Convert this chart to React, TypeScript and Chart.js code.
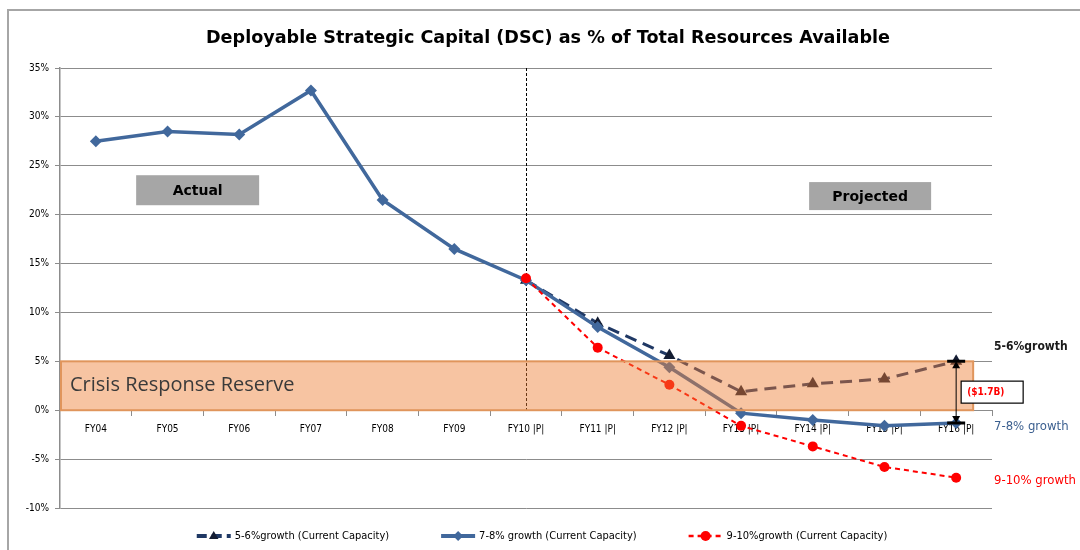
import React, { useEffect, useRef } from "react";
import { Chart, registerables } from "chart.js";

Chart.register(...registerables);

const categories = [
  "FY04", "FY05", "FY06", "FY07", "FY08", "FY09",
  "FY10 |P|", "FY11 |P|", "FY12 |P|", "FY13 |P|", "FY14 |P|", "FY15 |P|", "FY16 |P|",
];

const growth56 = [null, null, null, null, null, null, 13.3, 8.9, 5.6, 1.9, 2.7, 3.2, 5.0];
const growth78 = [27.5, 28.5, 28.2, 32.7, 21.5, 16.5, 13.3, 8.5, 4.4, -0.3, -1.0, -1.6, -1.3];
const growth910 = [null, null, null, null, null, null, 13.5, 6.4, 2.6, -1.6, -3.7, -5.8, -6.9];

const seriesLabels = [
  "5-6%growth (Current Capacity)",
  "7-8% growth (Current Capacity)",
  "9-10%growth (Current Capacity)",
];
const endLabels = ["5-6%growth", "7-8% growth", "9-10% growth"];
const seriesColors = ["#1f3864", "#41689c", "#ff0000"];
const markerColors = ["#141d33", "#41689c", "#ff0000"];

const yMin = -10;
const yMax = 35;
const yStep = 5;

const titleText = "Deployable Strategic Capital (DSC) as % of Total Resources Available";
const reserveRange = [0, 5];
const reserveLabel = "Crisis Response Reserve";
const gapLabel = "($1.7B)";
const phaseLabels = ["Actual", "Projected"];
const projectionStartIndex = 6;

function drawMarker(ctx: CanvasRenderingContext2D, style: string, x: number, y: number, r: number, color: string) {
  ctx.save();
  ctx.fillStyle = color;
  ctx.beginPath();
  if (style === "triangle") {
    ctx.moveTo(x, y - r);
    ctx.lineTo(x + r * 0.95, y + r * 0.6);
    ctx.lineTo(x - r * 0.95, y + r * 0.6);
  } else if (style === "rectRot") {
    ctx.moveTo(x, y - r);
    ctx.lineTo(x + r, y);
    ctx.lineTo(x, y + r);
    ctx.lineTo(x - r, y);
  } else {
    ctx.arc(x, y, r, 0, Math.PI * 2);
  }
  ctx.closePath();
  ctx.fill();
  ctx.restore();
}

const overlayPlugin = {
  id: "overlay",
  beforeDraw(chart: any) {
    const ctx = chart.ctx as CanvasRenderingContext2D;
    ctx.save();
    ctx.fillStyle = "#ffffff";
    ctx.fillRect(0, 0, chart.width, chart.height);
    ctx.strokeStyle = "#a6a6a6";
    ctx.lineWidth = 2;
    ctx.strokeRect(8, 10, chart.width + 20, chart.height + 20);
    ctx.fillStyle = "#000000";
    ctx.font = "bold 17.6px 'DejaVu Sans'";
    ctx.textAlign = "center";
    ctx.textBaseline = "middle";
    ctx.fillText(titleText, 548, 38);
    ctx.restore();
  },
  beforeDatasetsDraw(chart: any) {
    const ctx = chart.ctx as CanvasRenderingContext2D;
    const xs = chart.scales.x;
    const ys = chart.scales.y;
    const area = chart.chartArea;
    ctx.save();
    const dx = Math.round(xs.getPixelForValue(projectionStartIndex)) + 0.5;
    ctx.strokeStyle = "#000000";
    ctx.lineWidth = 1;
    ctx.setLineDash([3, 2]);
    ctx.beginPath();
    ctx.moveTo(dx, area.top);
    ctx.lineTo(dx, ys.getPixelForValue(0));
    ctx.stroke();
    ctx.setLineDash([]);

    const boxes = [
      { label: phaseLabels[0], idx: 1.42, v: 22.5, w: 123, h: 30 },
      { label: phaseLabels[1], idx: 10.8, v: 21.9, w: 122, h: 28 },
    ];
    boxes.forEach((b) => {
      const cx = xs.getPixelForValue(b.idx);
      const cy = ys.getPixelForValue(b.v);
      ctx.fillStyle = "#a6a6a6";
      ctx.fillRect(cx - b.w / 2, cy - b.h / 2, b.w, b.h);
      ctx.fillStyle = "#000000";
      ctx.font = "bold 14px 'DejaVu Sans'";
      ctx.textAlign = "center";
      ctx.textBaseline = "middle";
      ctx.fillText(b.label, cx, cy + 1);
    });
    ctx.restore();
  },
  afterDatasetsDraw(chart: any) {
    const ctx = chart.ctx as CanvasRenderingContext2D;
    const xs = chart.scales.x;
    const ys = chart.scales.y;
    const area = chart.chartArea;
    const last = categories.length - 1;
    const xLast = xs.getPixelForValue(last);
    ctx.save();

    const yTop = ys.getPixelForValue(reserveRange[1]);
    const yBot = ys.getPixelForValue(reserveRange[0]);
    const xRight = xLast + 17;
    ctx.fillStyle = "rgba(237,125,49,0.45)";
    ctx.fillRect(area.left, yTop, xRight - area.left, yBot - yTop);
    ctx.strokeStyle = "#e0955c";
    ctx.lineWidth = 2;
    ctx.strokeRect(area.left + 1, yTop, xRight - area.left - 1, yBot - yTop);
    ctx.fillStyle = "#3a3a3a";
    ctx.font = "20px 'Open Sans'";
    ctx.textAlign = "left";
    ctx.textBaseline = "middle";
    ctx.fillText(reserveLabel, area.left + 10, (yTop + yBot) / 2);

    const yA = ys.getPixelForValue(growth56[last] as number);
    const yB = ys.getPixelForValue(growth78[last] as number);
    ctx.strokeStyle = "#000000";
    ctx.fillStyle = "#000000";
    ctx.lineWidth = 1;
    ctx.beginPath();
    ctx.moveTo(xLast, yA + 4);
    ctx.lineTo(xLast, yB - 4);
    ctx.stroke();
    ctx.beginPath();
    ctx.moveTo(xLast, yA);
    ctx.lineTo(xLast + 4, yA + 7);
    ctx.lineTo(xLast - 4, yA + 7);
    ctx.closePath();
    ctx.fill();
    ctx.beginPath();
    ctx.moveTo(xLast, yB);
    ctx.lineTo(xLast + 4, yB - 7);
    ctx.lineTo(xLast - 4, yB - 7);
    ctx.closePath();
    ctx.fill();
    ctx.lineWidth = 3;
    ctx.beginPath();
    ctx.moveTo(xLast - 9, yA);
    ctx.lineTo(xLast + 9, yA);
    ctx.moveTo(xLast - 9, yB);
    ctx.lineTo(xLast + 9, yB);
    ctx.stroke();

    const midY = (yA + yB) / 2;
    const bx = xLast + 5;
    ctx.fillStyle = "#ffffff";
    ctx.fillRect(bx, midY - 11, 62, 22);
    ctx.strokeStyle = "#000000";
    ctx.lineWidth = 1.2;
    ctx.strokeRect(bx, midY - 11, 62, 22);
    ctx.fillStyle = "#ff0000";
    ctx.font = "bold 10px 'DejaVu Sans Condensed'";
    ctx.textAlign = "left";
    ctx.textBaseline = "middle";
    ctx.fillText(gapLabel, bx + 6, midY);

    const endVals = [growth56[last], growth78[last], growth910[last]] as number[];
    const offsets = [-14, 4, 3];
    const endColors = ["#1a1a1a", "#3b5f8f", "#ff0000"];
    endLabels.forEach((t, i) => {
      ctx.fillStyle = endColors[i];
      ctx.font = (i === 0 ? "bold 12px" : "13px") + " 'DejaVu Sans Condensed'";
      ctx.textAlign = "left";
      ctx.textBaseline = "middle";
      ctx.fillText(t, area.right + 2, ys.getPixelForValue(endVals[i]) + offsets[i]);
    });

    const styles = ["triangle", "rectRot", "circle"];
    const dashes = [[10, 5], [], [5, 4]];
    const widths = [4, 4, 2.5];
    ctx.font = "11px 'DejaVu Sans Condensed'";
    const lineLen = 34;
    const gap = 52;
    const textGap = 4;
    const itemW = seriesLabels.map((l) => lineLen + textGap + ctx.measureText(l).width);
    const total = itemW.reduce((a, b) => a + b, 0) + gap * (itemW.length - 1);
    let lx = 542 - total / 2;
    const ly = 536;
    seriesLabels.forEach((l, i) => {
      ctx.strokeStyle = seriesColors[i];
      ctx.lineWidth = widths[i];
      ctx.setLineDash(dashes[i]);
      ctx.beginPath();
      ctx.moveTo(lx, ly);
      ctx.lineTo(lx + lineLen, ly);
      ctx.stroke();
      ctx.setLineDash([]);
      drawMarker(ctx, styles[i], lx + lineLen / 2, ly, 5, markerColors[i]);
      ctx.fillStyle = "#000000";
      ctx.textAlign = "left";
      ctx.textBaseline = "middle";
      ctx.fillText(l, lx + lineLen + textGap, ly);
      lx += itemW[i] + gap;
    });
    ctx.restore();
  },
};

export default function App() {
  const canvasRef = useRef<HTMLCanvasElement | null>(null);

  useEffect(() => {
    if (!canvasRef.current) return;
    const chart = new Chart(canvasRef.current, {
      type: "line",
      data: {
        labels: categories,
        datasets: [
          {
            label: seriesLabels[0],
            data: growth56,
            borderColor: seriesColors[0],
            backgroundColor: markerColors[0],
            borderWidth: 3,
            borderDash: [12, 7],
            pointStyle: "triangle",
            pointRadius: 7,
            pointBorderWidth: 0,
            order: 2,
          },
          {
            label: seriesLabels[1],
            data: growth78,
            borderColor: seriesColors[1],
            backgroundColor: markerColors[1],
            borderWidth: 3.5,
            pointStyle: "rectRot",
            pointRadius: 6,
            pointBorderWidth: 0,
            order: 1,
          },
          {
            label: seriesLabels[2],
            data: growth910,
            borderColor: seriesColors[2],
            backgroundColor: markerColors[2],
            borderWidth: 2,
            borderDash: [5, 4],
            pointStyle: "circle",
            pointRadius: 5,
            pointBorderWidth: 0,
            order: 0,
          },
        ],
      },
      options: {
        responsive: false,
        animation: false,
        layout: { padding: { left: 8, top: 68, right: 88, bottom: 42 } },
        plugins: {
          legend: { display: false },
          title: { display: false },
          tooltip: { enabled: false },
        },
        scales: {
          x: {
            type: "category",
            position: { y: 0 } as any,
            offset: true,
            afterFit: (s: any) => { s.height = 0; },
            grid: { offset: true, drawOnChartArea: false, drawTicks: true, tickLength: 5, color: "#8c8c8c" },
            border: { color: "#8c8c8c", width: 1 },
            ticks: {
              color: "#000000",
              font: { family: "'DejaVu Sans Condensed'", size: 10 },
              padding: 8,
              maxRotation: 0,
              autoSkip: false,
            },
          },
          y: {
            min: yMin,
            max: yMax,
            afterFit: (s: any) => { s.width = 52; },
            grid: { color: "#8c8c8c", lineWidth: 1, drawTicks: true, tickLength: 5 },
            border: { color: "#8c8c8c", width: 1.5 },
            ticks: {
              stepSize: yStep,
              color: "#000000",
              padding: 6,
              font: { family: "'DejaVu Sans Condensed'", size: 10 },
              callback: (v: any) => `${v}%`,
            },
          },
        },
      },
      plugins: [overlayPlugin],
    });
    return () => chart.destroy();
  }, []);

  return (
    <div style={{ position: "fixed", left: 0, top: 0, width: 1080, height: 550, background: "#fff" }}>
      <canvas ref={canvasRef} width={1080} height={550} />
    </div>
  );
}
